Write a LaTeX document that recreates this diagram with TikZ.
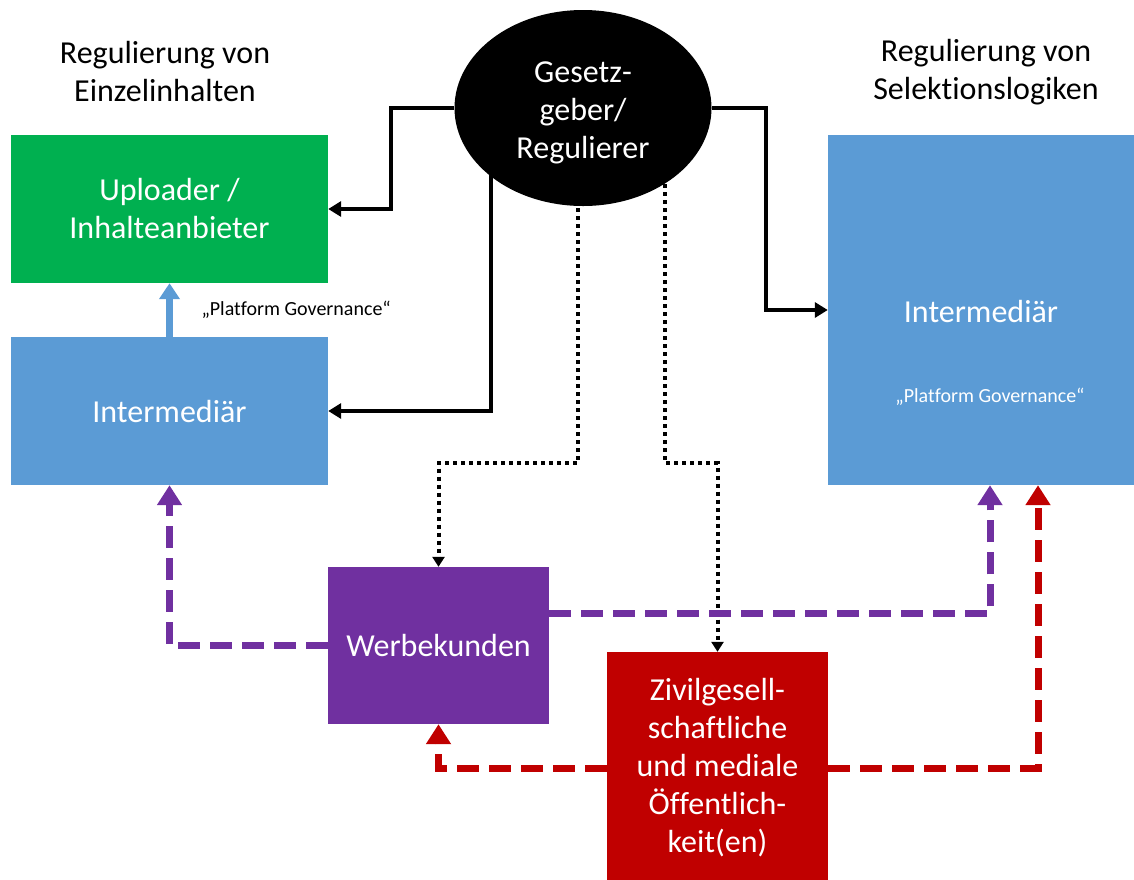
\documentclass[tikz,border=0pt]{standalone}
\usepackage{fontspec}
\setmainfont{Carlito}[Ligatures=NoCommon]
\usetikzlibrary{arrows.meta,shapes.geometric,calc}
\definecolor{cgreen}{HTML}{00B050}
\definecolor{cblue}{HTML}{5B9BD5}
\definecolor{cpurple}{HTML}{7030A0}
\definecolor{cred}{HTML}{C00000}
\tikzset{
  big/.style={font=\fontsize{32}{38}\selectfont, align=center},
  small/.style={font=\fontsize{20}{24}\selectfont},
  box/.style={rectangle, draw=none, inner sep=0pt, text=white, big},
  blk/.style={line width=4pt, -{Triangle[length=13pt,width=15pt]}},
  dotln/.style={line width=4pt, dash pattern=on 4pt off 4pt, -{Triangle[length=10pt,width=12pt]}},
  pdash/.style={line width=7pt, cpurple, dash pattern=on 22pt off 10pt, -{Triangle[length=20pt,width=24pt]}},
  rdash/.style={line width=7pt, cred, dash pattern=on 22pt off 10pt, -{Triangle[length=20pt,width=24pt]}},
}
\begin{document}
\begin{tikzpicture}[x=1pt,y=-1pt]
\useasboundingbox (0,0) rectangle (1134,879);
% titles
\node[big] (t1) at (165,72) {Regulierung von\\Einzelinhalten};
\node[big] (t2) at (986,72) {Regulierung von\\Selektionslogiken};
% boxes
\node[box, fill=cgreen, minimum width=317pt, minimum height=148pt] (green) at (169.5,209) {Uploader /\\Inhalteanbieter};
\node[box, fill=cblue, minimum width=317pt, minimum height=148pt] (intL) at (169.5,411) {Intermediär};
\node[box, fill=cblue, minimum width=306pt, minimum height=350pt] (intR) at (981,310) {};
\node[big, text=white] (intRt) at (981,311) {Intermediär};
\node[small, text=white] (pgR) at (990,397) {„Platform Governance“};
\node[box, fill=cpurple, minimum width=221pt, minimum height=157pt] (werb) at (438.5,645.5) {Werbekunden};
\node[box, fill=cred, minimum width=221pt, minimum height=232pt] (red) at (717.5,768) {Zivilgesell-\\schaftliche\\und mediale\\Öffentlich-\\keit(en)};
% ellipse
\node[ellipse, fill=black, minimum width=257pt, minimum height=196pt, inner sep=0pt] (ell) at (583,108) {};
\node[big, text=white] (ellt) at (583,113) {Gesetz-\\geber/\\Regulierer};
% black connectors
\draw[blk] (ell.west) -- ++(-63,0) |- (green.east);
\draw[blk] (ell.east) -- ++(54,0) |- (intR.west);
\draw[blk] ($(ell.center)+(-92,0)$) |- (intL.east);
% dotted connectors
\draw[dotln] ($(ell.center)+(-5,60)$) |- ($(werb.north)+(0,-104)$) -- (werb.north);
\draw[dotln] ($(ell.center)+(82,60)$) |- ($(red.north)+(0,-189)$) -- (red.north);
% blue arrow
\draw[line width=7pt, cblue, -{Triangle[length=16pt,width=20pt]}] (intL.north) -- (green.south);
\node[small, anchor=west] (pgL) at (198,310) {„Platform Governance“};
% purple dashed
\draw[pdash] (werb.west) -| (intL.south);
\draw[pdash] ($(werb.east)+(0,-32)$) -| ($(intR.south)+(9,0)$);
% red dashed
\draw[rdash] (red.west) -| (werb.south);
\draw[rdash] (red.east) -| ($(intR.south)+(57,0)$);
\end{tikzpicture}
\end{document}
